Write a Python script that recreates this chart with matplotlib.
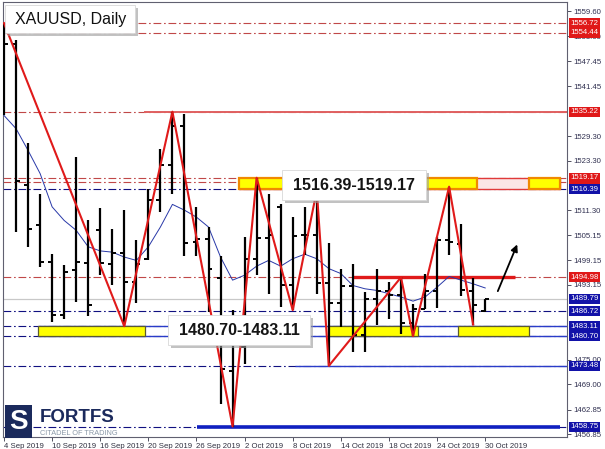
import matplotlib
matplotlib.use('Agg')
import matplotlib.pyplot as plt
from matplotlib.patches import Rectangle
from matplotlib.transforms import IdentityTransform, blended_transform_factory
import numpy as np

plt.rcParams['font.family'] = ['Liberation Sans', 'DejaVu Sans']

# ---------------- data ----------------
title = "XAUUSD, Daily"
tick_pos = [0, 4, 8, 12, 16, 20, 24, 28, 32, 36, 40]
tick_labels = ["4 Sep 2019", "10 Sep 2019", "16 Sep 2019", "20 Sep 2019", "26 Sep 2019",
               "2 Oct 2019", "8 Oct 2019", "14 Oct 2019", "18 Oct 2019", "24 Oct 2019", "30 Oct 2019"]

opens = [1546.0, 1551.7, 1517.3, 1507.6, 1498.7, 1485.8, 1496.7, 1498.5, 1506.4, 1498.3,
         1501.0, 1493.8, 1499.5, 1513.7, 1522.2, 1531.7, 1503.6, 1504.4, 1494.7, 1472.2,
         1478.1, 1499.5, 1504.5, 1512.0, 1493.0, 1505.2, 1505.2, 1493.6, 1488.8, 1492.8,
         1480.9, 1489.6, 1491.6, 1490.8, 1483.9, 1487.4, 1491.7, 1504.0, 1503.0, 1491.7,
         1486.72]
highs = [1556.72, 1552.7, 1527.6, 1515.3, 1500.7, 1497.9, 1524.1, 1508.8, 1511.9, 1506.8,
         1511.3, 1504.1, 1516.5, 1526.2, 1535.22, 1534.7, 1512.1, 1507.2, 1500.1, 1487.0,
         1504.8, 1519.17, 1515.3, 1512.9, 1509.6, 1512.1, 1516.1, 1503.2, 1497.1, 1498.3,
         1491.4, 1497.1, 1493.9, 1494.98, 1488.6, 1495.9, 1504.8, 1517.0, 1508.0, 1494.7,
         1489.79]
lows = [1534.5, 1506.0, 1502.4, 1497.5, 1484.1, 1484.9, 1489.0, 1485.5, 1495.5, 1493.0,
        1483.11, 1488.8, 1499.1, 1510.9, 1515.3, 1500.1, 1500.1, 1486.6, 1464.1, 1458.75,
        1474.0, 1495.5, 1491.0, 1487.8, 1487.0, 1500.5, 1491.0, 1473.48, 1482.9, 1476.9,
        1476.9, 1483.3, 1484.9, 1481.3, 1480.70, 1487.4, 1487.6, 1500.5, 1490.5, 1483.5,
        1486.6]
closes = [1551.7, 1518.5, 1506.8, 1498.7, 1485.8, 1496.3, 1498.7, 1488.2, 1498.5, 1501.0,
          1493.8, 1498.3, 1513.7, 1522.2, 1531.7, 1503.3, 1504.3, 1496.9, 1472.6, 1479.0,
          1499.5, 1504.5, 1505.2, 1493.0, 1505.0, 1505.2, 1493.6, 1488.8, 1492.8, 1480.9,
          1489.6, 1491.6, 1490.8, 1483.9, 1487.4, 1491.7, 1504.0, 1503.6, 1492.0, 1488.2,
          1489.79]
ma = [1534.3, 1531.1, 1525.8, 1520.2, 1512.1, 1508.8, 1506.4, 1502.4, 1501.4, 1501.1,
      1499.9, 1499.1, 1502.4, 1507.2, 1512.7, 1511.3, 1509.6, 1507.2, 1499.9, 1494.3,
      1495.5, 1497.7, 1499.1, 1497.7, 1499.5, 1500.6, 1499.5, 1497.1, 1495.9, 1493.0,
      1492.2, 1491.8, 1491.0, 1490.2, 1489.2, 1490.2, 1492.6, 1495.2, 1494.3, 1493.4,
      1492.4]
zigzag_idx = [0, 10, 14, 19, 21, 24, 26, 27, 33, 34, 37, 39]
zigzag_val = [1556.72, 1483.11, 1535.22, 1458.75, 1519.17, 1487.0, 1516.1, 1473.48,
              1494.98, 1480.70, 1517.0, 1483.5]

red_levels = [1556.72, 1554.44, 1535.22, 1519.17, 1494.98]
blue_levels = [1516.39, 1486.72, 1483.11, 1480.70, 1473.48, 1458.75]
hidden_red_level = 1518.20
current_price = 1489.79
price_ticks = [1559.60, 1553.60, 1547.45, 1541.45, 1529.30, 1523.30,
               1511.30, 1505.15, 1499.15, 1493.15, 1475.00, 1469.00,
               1462.85, 1456.85]

support_zone = (1480.70, 1483.11)
resist_zone = (1516.39, 1519.17)
support_boxes = [(2.83, 11.7), (26.9, 34.4), (37.7, 43.6)]
resist_boxes = [(19.5, 23.8), (35.0, 39.3), (43.6, 46.2)]
resist_frame = (19.5, 46.2)
arrow_from = (40.96, 1491.0)
arrow_to = (42.75, 1503.6)

# ---------------- figure ----------------
W, H = 605, 449
fig = plt.figure(figsize=(W / 100, H / 100), dpi=100)
fig.patch.set_facecolor('white')
L, R, T, B = 2.5, 567, 1.5, 437
ax = fig.add_axes([L / W, 1 - B / H, (R - L) / W, (B - T) / H])
ax.set_facecolor('white')
xmin, xmax = -0.125, 46.8
ax.set_xlim(xmin, xmax)
ax.set_ylim(1456.2, 1561.98)
for s in ax.spines.values():
    s.set_color('#606070')
    s.set_linewidth(0.8)

RED = '#e01a1a'
NAVY = '#101080'
dd = (0, (7, 2.5, 1.5, 2.5))

# level lines
ax.axhline(current_price, color='#c8c8c8', lw=0.9, zorder=1)
for lv in red_levels + [hidden_red_level]:
    ax.axhline(lv, color='#c04848', lw=0.8, ls=dd, zorder=1)
for lv in blue_levels:
    ax.axhline(lv, color=NAVY, lw=0.8, ls=dd, zorder=1)

# solid trend levels
ax.hlines(1535.22, 11.6, xmax, color='#e06060', lw=1.4, zorder=2)
ax.hlines(1494.98, 28.9, 42.5, color=RED, lw=2.4, zorder=2)
ax.hlines([1483.11, 1480.70], 2.83, xmax, color='#2a3cc8', lw=1.0, zorder=2)
ax.hlines(1473.48, 24.2, xmax, color='#2a3cc8', lw=1.0, zorder=2)
ax.hlines(1458.75, 16.04, 46.2, color='#1020c0', lw=2.6, zorder=2)

# resistance zone
f0, f1 = resist_frame
ax.add_patch(Rectangle((f0, resist_zone[0]), f1 - f0, resist_zone[1] - resist_zone[0],
                       fc='#fbe6e6', ec='#e03a3a', lw=1.0, zorder=2.2))
for a, b in resist_boxes:
    ax.add_patch(Rectangle((a, resist_zone[0]), b - a, resist_zone[1] - resist_zone[0],
                           fc='#ffff00', ec='#f08a00', lw=1.6, zorder=2.3))
for a, b in support_boxes:
    ax.add_patch(Rectangle((a, support_zone[0]), b - a, support_zone[1] - support_zone[0],
                           fc='#ffff00', ec='#5a5a30', lw=0.9, zorder=2.3))

# moving average
idx = np.arange(len(opens))
ax.plot(idx, ma, color='#2838a8', lw=0.7, zorder=3)

# OHLC bars
ax.vlines(idx, lows, highs, color='black', lw=1.6, zorder=4)
ax.hlines(opens, idx - 0.33, idx, color='black', lw=1.4, zorder=4)
ax.hlines(closes, idx, idx + 0.33, color='black', lw=1.4, zorder=4)

# zigzag
ax.plot(zigzag_idx, zigzag_val, color=RED, lw=1.5, zorder=5)

# arrow
ax.annotate('', xy=arrow_to, xytext=arrow_from,
            arrowprops=dict(arrowstyle='-|>', color='black', lw=1.3, mutation_scale=10),
            zorder=6)

# axes ticks
ax.set_xticks(tick_pos)
ax.set_xticklabels(tick_labels)
for lbl in ax.get_xticklabels():
    lbl.set_ha('left')
ax.tick_params(axis='x', length=3, width=0.7, color='#505060', labelsize=5.6,
               labelcolor='#303040', pad=1)
ax.yaxis.tick_right()
ax.set_yticks(price_ticks)
ax.set_yticklabels([f"{v:.2f}" for v in price_ticks])
ax.tick_params(axis='y', length=3, width=0.7, color='#505060', labelsize=5.6,
               labelcolor='#303050', pad=1.5)

# coloured price labels on the right axis
btr = blended_transform_factory(ax.transAxes, ax.transData)
px_per_price = (B - T) / (1561.98 - 1456.2)
lab_h = 10 / px_per_price
lx0 = (569 - L) / (R - L)
lw_ = 31 / (R - L)


def price_label(v, fc, z):
    ax.add_patch(Rectangle((lx0, v - lab_h / 2), lw_, lab_h, transform=btr, fc=fc, ec='none',
                           clip_on=False, zorder=z))
    ax.text(lx0 + lw_ / 2, v, f"{v:.2f}", transform=btr, ha='center', va='center',
            color='white', fontsize=5.6, clip_on=False, zorder=z + 0.1)


price_label(hidden_red_level, '#e01818', 10)
for v in red_levels:
    price_label(v, '#e01818', 11)
for v in blue_levels + [current_price]:
    price_label(v, '#1212a8', 11)

# ---------------- decorations in pixel space ----------------
ID = IdentityTransform()


def pbox(x0, y0, x1, y1, **kw):
    r = Rectangle((x0, H - y1), x1 - x0, y1 - y0, transform=ID, **kw)
    fig.add_artist(r)


def ptext(x, y, s, **kw):
    fig.text(x / W, 1 - y / H, s, **kw)


def callout(x0, y0, x1, y1):
    pbox(x0 + 3, y0 + 3, x1 + 3, y1 + 3, fc='#9a9a9a', ec='none', alpha=0.6, zorder=20)
    pbox(x0, y0, x1, y1, fc='white', ec='#d8d8d8', lw=0.6, zorder=21)
    return (x0 + x1) / 2, (y0 + y1) / 2


cx, cy = callout(5, 5, 135, 33)
ptext(15, cy + 0.5, title, fontsize=11.5, ha='left', va='center', color='#111111', zorder=22)
cx, cy = callout(282, 170, 426, 200)
ptext(cx, cy + 0.5, f"{resist_zone[0]:.2f}-{resist_zone[1]:.2f}", fontsize=11.5,
      weight='bold', ha='center', va='center', color='#151515', zorder=22)
cx, cy = callout(168, 315, 310, 345)
ptext(cx, cy + 0.5, f"{support_zone[0]:.2f}-{support_zone[1]:.2f}", fontsize=11.5,
      weight='bold', ha='center', va='center', color='#151515', zorder=22)

# logo
pbox(5, 405, 32, 438, fc='#1b2a5c', ec='none', zorder=20)
ptext(18.5, 422, "S", fontsize=20, weight='bold', ha='center', va='center', color='white',
      zorder=21)
ptext(40, 417, "FORTFS", fontsize=13.5, weight='bold', ha='left', va='center',
      color='#1b2a5c', zorder=21)
ptext(40, 433.5, "CITADEL OF TRADING", fontsize=5.3, ha='left', va='center',
      color='#8a98a8', zorder=21)

fig.savefig('out.png', dpi=100, facecolor='white')
